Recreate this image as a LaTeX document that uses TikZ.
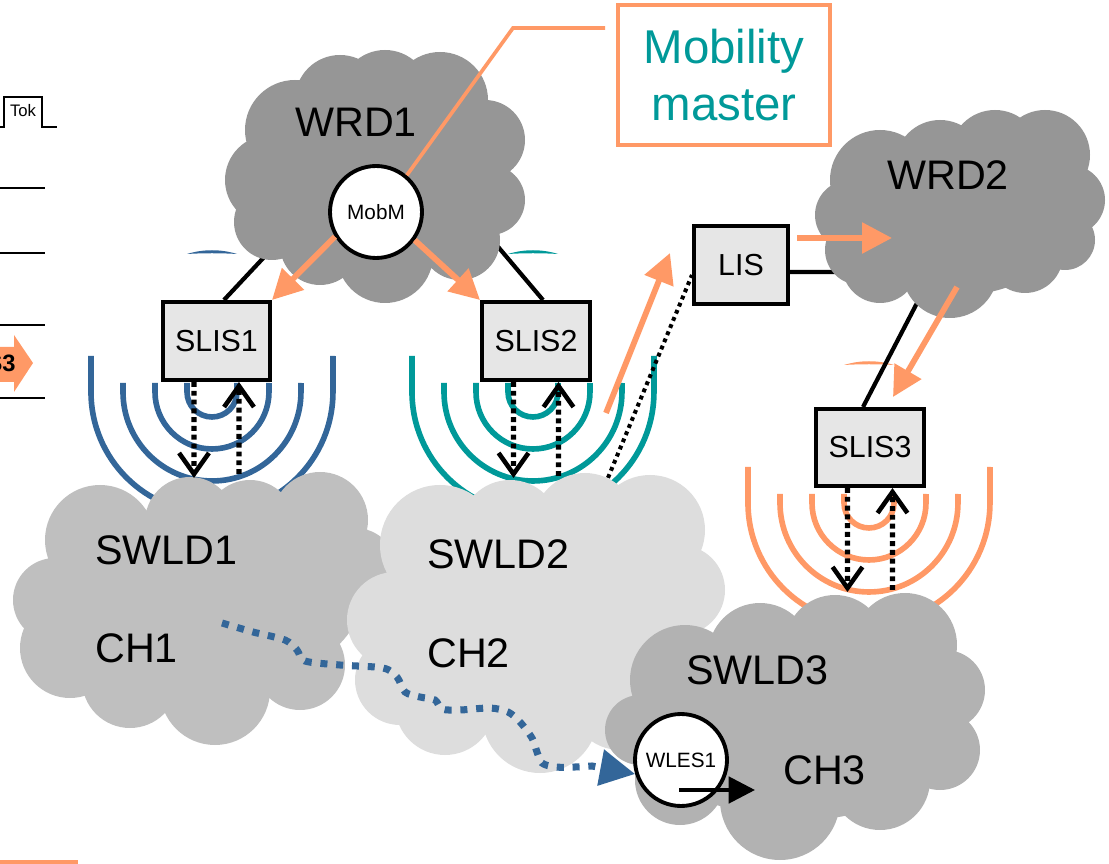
\documentclass[tikz,border=0pt]{standalone}
\usepackage{fontspec}
\setmainfont{Liberation Sans}
\usetikzlibrary{arrows.meta}
\pgfdeclarelayer{back}
\pgfdeclarelayer{clouds}
\pgfsetlayers{back,clouds,main}

\definecolor{mmorange}{RGB}{255,153,102}
\definecolor{mmteal}{RGB}{0,153,153}
\definecolor{mmblue}{RGB}{51,102,153}
\definecolor{wrdgray}{RGB}{150,150,150}
\definecolor{swldonegray}{RGB}{191,191,191}
\definecolor{swldtwogray}{RGB}{221,221,221}
\definecolor{swldthreegray}{RGB}{178,178,178}
\definecolor{boxgray}{RGB}{230,230,230}

\tikzset{
  biglabel/.style={font=\fontsize{23.5}{28}\selectfont, inner sep=0pt, anchor=west},
  lisbox/.style={draw=black, line width=2.3pt, fill=boxgray, inner sep=0pt,
                 font=\fontsize{17.3}{20}\selectfont},
  agent/.style={circle, draw=black, line width=2.2pt, fill=white, minimum size=1.84cm,
                inner sep=0pt, font=\fontsize{11.8}{14}\selectfont},
  wire/.style={draw=black, line width=2.4pt},
  hop/.style={draw=mmorange, line width=3.3pt, -{Triangle[length=17pt,width=17pt]}},
  signal/.style={draw=black, line width=3pt, dash pattern=on 2.8pt off 2.2pt,
                 -{Straight Barb[length=12pt,width=17pt,line width=2.6pt]}},
  dotlink/.style={draw=black, line width=2.3pt, dash pattern=on 2.2pt off 2.2pt},
  route/.style={draw=mmblue, line width=4pt, dash pattern=on 4pt off 5pt,
                -{Triangle[length=20pt,width=20pt]}},
  wave/.style={line width=3.2pt},
  leader/.style={draw=mmorange, line width=2.1pt},
  tick/.style={draw=black, line width=1.6pt},
}

% concentric radio rings below a station: centre x, top y, colour
\newcommand\wavefan[3]{%
  \foreach \ringr/\ringcm in {25/0.5cm,57/1.14cm,89/1.78cm}{%
    \draw[wave,#3] (#1-\ringr,#2) -- (#1-\ringr,#2+9)
      arc[start angle=180,end angle=360,radius=\ringcm] -- (#1+\ringr,#2);
  }
  \draw[wave,#3] (#1-121,#2-27) -- (#1-121,#2+9)
      arc[start angle=180,end angle=360,radius=2.42cm] -- (#1+121,#2-27);
  \fill[#3] (#1-25,#2-129) .. controls (#1-9,#2-134) and (#1+9,#2-134) .. (#1+25,#2-129)
      .. controls (#1+9,#2-130) and (#1-9,#2-130) .. cycle;
}

\begin{document}
\begin{tikzpicture}[x=0.02cm,y=-0.02cm]
\useasboundingbox (0,0) rectangle (1109,864);
\clip (0,0) rectangle (1109,864);

% ---------- stations and agents ----------
\node[lisbox, minimum width=2.14cm, minimum height=1.56cm] (slis1) at (216.5,341) {SLIS1};
\node[lisbox, minimum width=2.16cm, minimum height=1.56cm] (slis2) at (536,341) {SLIS2};
\node[lisbox, minimum width=1.88cm, minimum height=1.56cm] (lis) at (741,265) {LIS};
\node[lisbox, minimum width=2.16cm, minimum height=1.54cm] (slis3) at (870,447.5) {SLIS3};
\node[agent] (mobm) at (376,212) {MobM};
\node[agent] (wles1) at (681,760) {WLES1};

\node[draw=mmorange, line width=2.3pt, minimum width=4.24cm, minimum height=2.8cm,
      inner sep=0pt, align=center, text=mmteal, font=\fontsize{27}{32}\selectfont]
      (mmbox) at (724,75) {Mobility\\master};

% ---------- domain labels ----------
\node[biglabel] (wrd1-lbl) at (295,122) {WRD1};
\node[biglabel] (wrd2-lbl) at (887,175) {WRD2};
\node[biglabel] (swld1-lbl) at (95,550) {SWLD1};
\node[biglabel] (ch1-lbl) at (95,648) {CH1};
\node[biglabel] (swld2-lbl) at (427,554) {SWLD2};
\node[biglabel] (ch2-lbl) at (427,653) {CH2};
\node[biglabel] (swld3-lbl) at (686,670) {SWLD3};
\node[biglabel] (ch3-lbl) at (783,770) {CH3};

% ---------- connection points ----------
\coordinate (wrd1-a) at (282,238);
\coordinate (wrd1-b) at (472,216);
\coordinate (wrd2-a) at (860,272);
\coordinate (wrd2-b) at (930,278);
\coordinate (swld2-edge) at (605,485);
\coordinate (swld2-out) at (606,413);
\coordinate (lis-in) at (670,253);
\coordinate (lis-out) at (797,238);
\coordinate (wrd2-in) at (892,238);
\coordinate (wrd2-out) at (957,287);
\coordinate (slis3-in) at (893,397);
\coordinate (swld1-in) at (194,478);
\coordinate (swld1-up) at (239,474);
\coordinate (swld2-in) at (513.5,478);
\coordinate (swld2-up) at (558.5,476);
\coordinate (swld3-in) at (847.5,592);
\coordinate (swld3-up) at (892.5,590);
\coordinate (lead-start) at (605,28);
\coordinate (lead-bend) at (513,28);
\coordinate (route-start) at (222,623);
\coordinate (wles-a) at (679,790);
\coordinate (wles-b) at (755,790);

% ---------- radio rings and wired links ----------
\begin{pgfonlayer}{back}
  \wavefan{212}{383}{mmblue}
  \wavefan{533}{383}{mmteal}
  \wavefan{869}{494}{mmorange}
  \draw[wire] (wrd1-a) -- ([xshift=0.15cm]slis1.north);
  \draw[wire] (wrd1-b) -- ([xshift=0.14cm]slis2.north);
  \draw[wire] ([yshift=-0.14cm]lis.east) -- (wrd2-a);
  \draw[wire] (wrd2-b) -- ([xshift=-0.14cm]slis3.north);
  \draw[dotlink] (swld2-edge) -- ([yshift=-0.2cm]lis.west);
\end{pgfonlayer}

% ---------- domains ----------
\begin{pgfonlayer}{clouds}
  \fill[wrdgray] (375,175) circle[x radius=120,y radius=90]
    (295,130) circle[radius=50] (340,100) circle[radius=45] (385,95) circle[radius=45]
    (440,100) circle[radius=48] (485,140) circle[radius=40] (270,180) circle[radius=45]
    (272,222) circle[radius=38] (320,245) circle[radius=40] (385,255) circle[radius=48]
    (460,240) circle[radius=40] (490,200) circle[radius=35];
  \fill[wrdgray] (960,215) circle[x radius=110,y radius=80]
    (880,180) circle[radius=50] (940,165) circle[radius=45] (995,155) circle[radius=45]
    (1045,155) circle[radius=45] (1070,200) circle[radius=35] (850,215) circle[radius=35]
    (860,250) circle[radius=35] (880,265) circle[radius=38] (950,270) circle[radius=48]
    (1025,255) circle[radius=38] (1065,240) circle[radius=30];
  \fill[swldonegray] (200,600) circle[x radius=160,y radius=90]
    (100,540) circle[radius=55] (55,600) circle[radius=42] (70,648) circle[radius=50]
    (130,680) circle[radius=48] (215,690) circle[radius=55] (300,665) circle[radius=45]
    (190,522) circle[radius=45] (250,525) circle[radius=45] (320,520) circle[radius=48]
    (355,570) circle[radius=42];
  \fill[swldtwogray] (540,620) circle[x radius=150,y radius=110]
    (440,545) circle[radius=60] (510,530) circle[radius=50] (585,525) circle[radius=52]
    (650,530) circle[radius=55] (680,590) circle[radius=45] (395,620) circle[radius=48]
    (400,680) circle[radius=45] (445,705) circle[radius=50] (540,715) circle[radius=58]
    (620,700) circle[radius=50];
  \fill[swldthreegray] (800,730) circle[x radius=150,y radius=90]
    (685,680) circle[radius=55] (760,655) circle[radius=52] (835,645) circle[radius=50]
    (905,645) circle[radius=52] (945,690) circle[radius=40] (940,750) circle[radius=40]
    (640,730) circle[radius=35] (680,780) circle[radius=45] (780,800) circle[radius=60]
    (880,780) circle[radius=50];
\end{pgfonlayer}

% ---------- mobility signalling ----------
\draw[hop] (mobm.211) -- (slis1.north east);
\draw[hop] (mobm.324) -- (slis2.north west);
\draw[hop] (swld2-out) -- (lis-in);
\draw[hop] (lis-out) -- (wrd2-in);
\draw[hop] (wrd2-out) -- (slis3-in);

\draw[signal] ([xshift=-0.45cm]slis1.south) -- (swld1-in);
\draw[signal] (swld1-up) -- ([xshift=0.45cm]slis1.south);
\draw[signal] ([xshift=-0.45cm]slis2.south) -- (swld2-in);
\draw[signal] (swld2-up) -- ([xshift=0.45cm]slis2.south);
\draw[signal] ([xshift=-0.45cm]slis3.south) -- (swld3-in);
\draw[signal] (swld3-up) -- ([xshift=0.45cm]slis3.south);

\draw[leader] (lead-start) -- (lead-bend) -- (mobm.50);

% roaming path of the end station
\draw[route] plot[smooth, tension=0.5] coordinates {(route-start) (253,632) (285,640)
  (297,650) (305,661) (340,665) (383,668) (397,677) (405,692) (420,697) (435,700)
  (442,709) (460,710) (490,708) (508,712) (520,722) (532,738) (537,752) (542,763)
  (555,767) (575,767) (592,766)} -- (wles1.197);
\draw[black, line width=2.2pt, -{Triangle[length=15pt,width=15pt]}] (wles-a) -- (wles-b);

% ---------- neighbouring slide content at the left edge ----------
\draw[tick] (-5,127) -- (4,127) -- (4,97) -- (42,97) -- (42,127) -- (57,127);
\node[font=\fontsize{9.5}{11}\selectfont, inner sep=0pt] (tok) at (23,111) {Tok};
\foreach \yy in {188,253,325,398} \draw[tick] (-5,\yy) -- (45,\yy);
\fill[mmorange] (-40,347) -- (14,347) -- (14,335) -- (33,363) -- (14,392) -- (14,382)
  -- (-40,382) -- cycle;
\node[font=\bfseries\fontsize{13.5}{16}\selectfont, anchor=east, inner sep=0pt] (s3) at (16,363) {S3};
\draw[mmorange, line width=2.3pt] (-5,862) -- (78,862);
\end{tikzpicture}
\end{document}
